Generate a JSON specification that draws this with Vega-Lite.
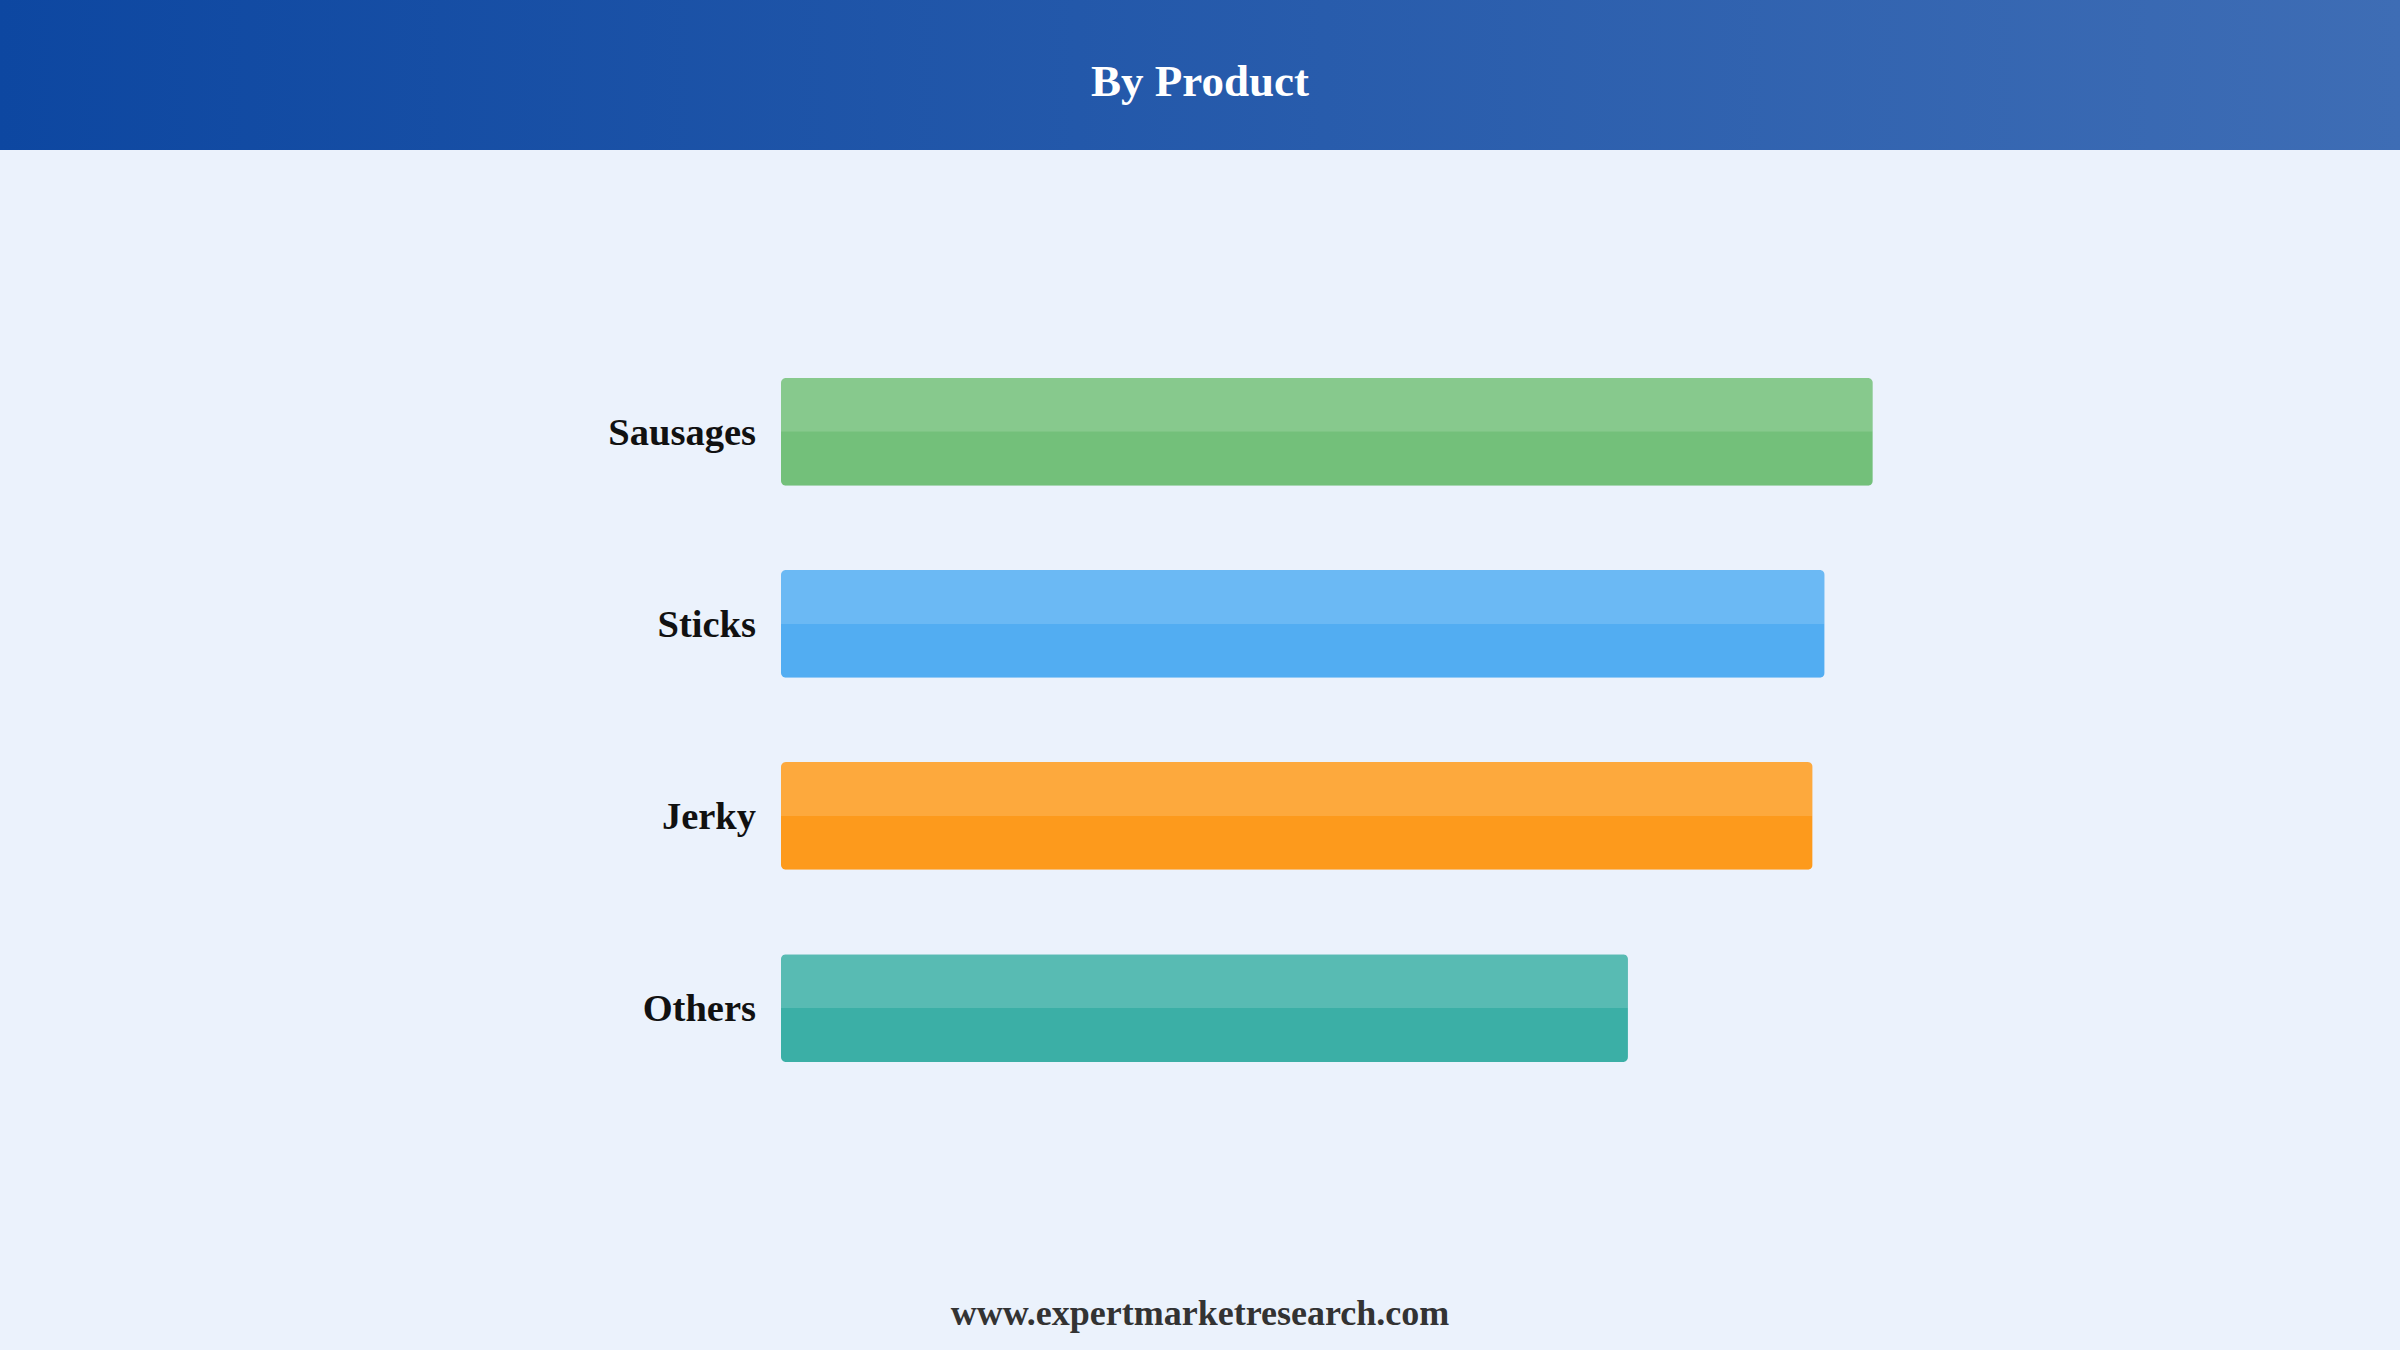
{
  "$schema": "https://vega.github.io/schema/vega-lite/v6.json",
  "background": "#EBF2FC",
  "padding": 0,
  "spacing": 0,
  "config": {
    "view": {"stroke": null},
    "font": "Liberation Serif"
  },
  "vconcat": [
    {
      "width": 2400,
      "height": 150,
      "data": {"values": [{"heading": "By Product"}]},
      "layer": [
        {
          "mark": {
            "type": "rect",
            "color": {
              "gradient": "linear",
              "x1": 0, "y1": 0, "x2": 1, "y2": 0,
              "stops": [
                {"offset": 0, "color": "#0D47A1"},
                {"offset": 1, "color": "#3E6DB5"}
              ]
            }
          },
          "encoding": {}
        },
        {
          "mark": {
            "type": "text",
            "font": "Liberation Serif",
            "fontSize": 45,
            "fontWeight": "bold",
            "color": "#FFFFFF",
            "align": "center",
            "baseline": "alphabetic",
            "dy": 21
          },
          "encoding": {
            "text": {"field": "heading", "type": "nominal"}
          }
        }
      ]
    },
    {
      "width": 2400,
      "height": 1068,
      "data": {
        "values": [
          {"product": "Sausages", "share": 27.2},
          {"product": "Sticks", "share": 26.0},
          {"product": "Jerky", "share": 25.7},
          {"product": "Others", "share": 21.1}
        ]
      },
      "encoding": {
        "y": {
          "field": "product",
          "type": "nominal",
          "sort": null,
          "axis": null,
          "scale": {"paddingInner": 0.439, "paddingOuter": 1, "align": 0.5936}
        }
      },
      "layer": [
        {
          "mark": {"type": "bar", "cornerRadius": 5},
          "encoding": {
            "x": {
              "field": "share",
              "type": "quantitative",
              "axis": null,
              "scale": {"domain": [-19.457, 40.334], "nice": false, "zero": false}
            },
            "color": {
              "field": "product",
              "type": "nominal",
              "legend": null,
              "scale": {
                "domain": ["Sausages", "Sticks", "Jerky", "Others"],
                "range": ["#73C07A", "#52ADF2", "#FD9A1C", "#3BAFA6"]
              }
            }
          }
        },
        {
          "mark": {
            "type": "bar",
            "color": "#FFFFFF",
            "opacity": 0.15,
            "cornerRadiusTopLeft": 5,
            "cornerRadiusTopRight": 5
          },
          "encoding": {
            "x": {"field": "share", "type": "quantitative"},
            "yOffset": {
              "datum": "top",
              "type": "nominal",
              "scale": {"domain": ["top", "bottom"], "paddingInner": 0, "paddingOuter": 0}
            }
          }
        },
        {
          "mark": {
            "type": "text",
            "font": "Liberation Serif",
            "fontSize": 38.5,
            "fontWeight": "bold",
            "color": "#111111",
            "align": "right",
            "baseline": "alphabetic",
            "dx": -25,
            "dy": 13
          },
          "encoding": {
            "x": {"datum": 0, "type": "quantitative"},
            "text": {"field": "product", "type": "nominal"}
          }
        }
      ]
    },
    {
      "width": 2400,
      "height": 132,
      "data": {"values": [{"source": "www.expertmarketresearch.com"}]},
      "mark": {
        "type": "text",
        "font": "Liberation Serif",
        "fontSize": 36,
        "fontWeight": "bold",
        "color": "#333333",
        "align": "center",
        "baseline": "alphabetic",
        "dy": 41
      },
      "encoding": {
        "text": {"field": "source", "type": "nominal"}
      }
    }
  ]
}
